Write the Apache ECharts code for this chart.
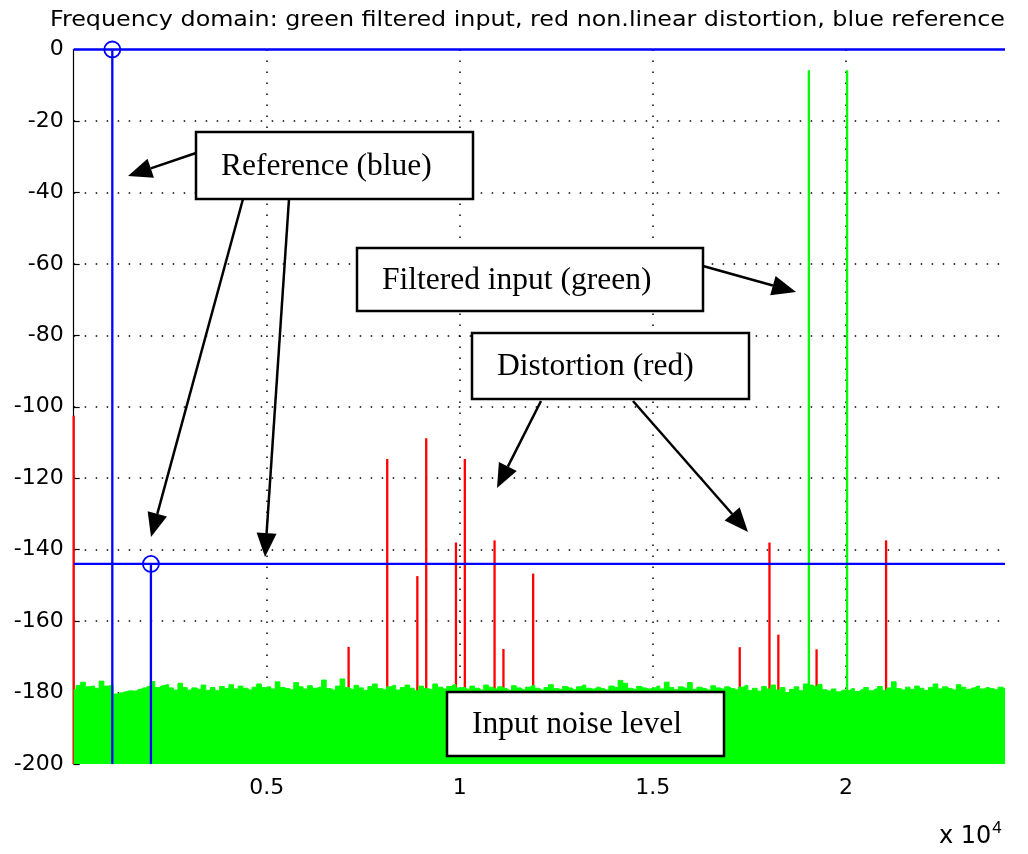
<!DOCTYPE html>
<html>
<head>
<meta charset="utf-8">
<script src="https://cdn.jsdelivr.net/npm/echarts@6/dist/echarts.min.js"></script>
<style>
  html, body { margin: 0; padding: 0; background: #fff; }
  #chart { width: 1028px; height: 854px; }
</style>
</head>
<body>
<div id="chart"></div>
<script>
// Spectrum axis limits (Hz, dB)
const X_MAX = 24120;
const Y_MIN = -200;
const Y_MAX = 0;
const X_TICK_HZ = 5000;

// Broadband noise floor of the filtered input, evenly spaced bins from 0 Hz to X_MAX
const noiseDb = [
  -179.2, -178.0, -177.1, -178.4, -178.2, -178.8, -176.8, -178.2, -178.0,
  -180.4, -180.1, -179.8, -179.5, -179.6, -179.1, -178.7, -178.3,
  -176.9, -178.6, -178.1, -177.8, -178.7, -179.3, -177.4, -178.6, -179.3, -178.7,
  -179.1, -177.9, -179.4, -178.6, -179.5, -178.3, -178.9, -177.8, -179.0, -178.2,
  -178.8, -179.3, -178.5, -177.6, -178.6,
  -178.4, -179.0, -177.0, -178.6, -178.9, -179.2, -177.2, -178.4, -179.0, -178.1,
  -178.8, -178.5, -176.5, -178.9, -179.3, -178.2, -176.2, -178.6, -179.1, -178.0,
  -178.7, -179.4, -178.3, -177.6, -178.9, -179.2, -178.4, -178.0, -179.3, -178.6,
  -177.9, -178.8, -179.5, -178.2, -178.9, -179.1, -177.6, -178.5, -179.0, -178.3,
  -177.8, -178.7,
  -178.6, -179.1, -178.2, -178.8, -179.3, -177.9, -178.5, -179.0, -178.4, -178.9,
  -179.4, -178.1, -178.7, -179.2, -178.5, -178.0, -178.8, -179.3, -178.6, -177.8,
  -178.9, -179.1, -178.3, -178.7, -179.2, -178.4, -177.9, -178.8, -179.0, -178.5,
  -178.9, -179.3, -178.2, -178.6, -176.6, -177.4, -178.8, -179.1, -178.3, -178.7,
  -179.0,
  -178.7, -178.2, -179.0, -177.1, -178.6, -179.2, -178.4, -178.8, -177.2, -179.1,
  -178.5, -178.9, -179.3, -178.1, -178.7, -179.0, -178.4, -178.9, -179.2, -178.5,
  -178.0, -179.4, -178.8, -179.6, -178.3, -179.0, -177.9, -179.3, -178.6, -180.0,
  -179.1, -178.4, -179.5, -177.6, -177.9, -178.3, -177.7, -179.2, -179.6, -179.0,
  -179.8, -179.3,
  -179.4, -178.9, -179.7, -179.2, -178.6, -179.5, -179.0, -178.3, -179.4, -178.7,
  -177.0, -178.9, -179.3, -178.5, -179.1, -178.2, -178.8, -179.4, -178.6, -177.6,
  -179.0, -178.4, -178.9, -179.3, -177.8, -178.5, -179.1, -178.7, -178.2, -179.0,
  -178.6, -178.9, -179.2, -178.5, -179.0
];

// Non-linear distortion products (red)
const distortionHz = [0, 7120, 8120, 8900, 9130, 9900, 10130, 10900, 11130, 11900, 17250, 18020, 18250, 19240, 21040];
const distortionDb = [-102.5, -167.2, -114.6, -147.4, -108.8, -138.0, -114.6, -137.4, -167.8, -146.7, -167.3, -138.0, -163.8, -167.9, -137.4];

// Two-tone filtered input (green)
const toneHz = [19040, 20030];
const toneDb = [-5.8, -5.8];

// Reference levels (blue)
const referenceHz = [1000, 2000];
const referenceDb = [0, -144];

const TITLE = 'Frequency domain: green filtered input, red non.linear distortion, blue reference';

const GREEN = '#00ff00';
const RED = '#ff0000';
const BLUE = '#0000ff';
const SANS = '"DejaVu Sans", Verdana, sans-serif';
const SERIF = '"Liberation Serif", "Times New Roman", serif';
const STEM_WIDTH = 2.3;

const noiseStep = X_MAX / (noiseDb.length - 1);
const noiseData = noiseDb.map((v, i) => [i * noiseStep, v]);
const distortionData = distortionHz.map((f, i) => [f, distortionDb[i]]);
const toneData = toneHz.map((f, i) => [f, toneDb[i]]);
const referenceData = referenceHz.map((f, i) => [f, referenceDb[i]]);

function stemRenderer(color) {
  return function (params, api) {
    const f = api.value(0);
    const top = api.value(1);
    const p0 = api.coord([f, Y_MIN]);
    const p1 = api.coord([f, top]);
    return {
      type: 'line',
      shape: { x1: p0[0], y1: p0[1], x2: p1[0], y2: p1[1] },
      style: { stroke: color, lineWidth: STEM_WIDTH }
    };
  };
}

function referenceRenderer(params, api) {
  const f = api.value(0);
  const level = api.value(1);
  const p0 = api.coord([f, Y_MIN]);
  const p1 = api.coord([f, level]);
  const cs = params.coordSys;
  return {
    type: 'group',
    children: [
      { type: 'line', shape: { x1: cs.x, y1: p1[1], x2: cs.x + cs.width, y2: p1[1] },
        style: { stroke: BLUE, lineWidth: STEM_WIDTH } },
      { type: 'line', shape: { x1: p0[0], y1: p0[1], x2: p1[0], y2: p1[1] },
        style: { stroke: BLUE, lineWidth: STEM_WIDTH } },
      { type: 'circle', shape: { cx: p1[0], cy: p1[1], r: 8 },
        style: { stroke: BLUE, fill: 'none', lineWidth: 1.8 } }
    ]
  };
}

// Stretch the title so it spans the plot width like the original screen font
const measureCtx = document.createElement('canvas').getContext('2d');
measureCtx.font = '21px ' + SANS;
const titleScaleX = 955 / measureCtx.measureText(TITLE).width;

const chart = echarts.init(document.getElementById('chart'), null, { renderer: 'canvas' });

// Call-out boxes and arrows
function box(x, y, w, h, label) {
  return [
    { type: 'rect', z: 100, shape: { x: x, y: y, width: w, height: h },
      style: { fill: '#fff', stroke: '#000', lineWidth: 2.5 } },
    { type: 'text', z: 101, x: x + 25, y: y + h / 2 + 1,
      style: { text: label, font: '31.5px ' + SERIF, fill: '#000', verticalAlign: 'middle', align: 'left' } }
  ];
}
function arrow(x1, y1, x2, y2) {
  const dx = x2 - x1, dy = y2 - y1;
  const len = Math.sqrt(dx * dx + dy * dy);
  const ux = dx / len, uy = dy / len;
  const headLen = 24, halfW = 10;
  const bx = x2 - ux * headLen, by = y2 - uy * headLen;
  return [
    { type: 'line', z: 100, shape: { x1: x1, y1: y1, x2: bx, y2: by },
      style: { stroke: '#000', lineWidth: 2.5 } },
    { type: 'polygon', z: 100,
      shape: { points: [[x2, y2], [bx - uy * halfW, by + ux * halfW], [bx + uy * halfW, by - ux * halfW]] },
      style: { fill: '#000' } }
  ];
}

const annotations = [].concat(
  arrow(196, 153, 128, 176),
  arrow(243, 199, 151, 537),
  arrow(289, 199, 265, 557),
  arrow(703, 266, 796, 292),
  arrow(541, 401, 497, 488),
  arrow(633, 401, 748, 532),
  box(196, 132, 277, 67, 'Reference (blue)'),
  box(357, 248, 346, 63, 'Filtered input (green)'),
  box(472, 333, 277, 66, 'Distortion (red)'),
  box(447, 692, 277, 64, 'Input noise level'),
  [
    { type: 'text', z: 50, x: 50, y: 21, scaleX: titleScaleX,
      style: { text: TITLE, font: '21px ' + SANS, fill: '#000', verticalAlign: 'middle', align: 'left' } },
    { type: 'text', z: 50, x: 939, y: 820,
      style: { text: 'x 10{s|4}', font: '24px ' + SANS, fill: '#000',
        rich: { s: { fontSize: 17, verticalAlign: 'top', padding: [0, 0, 16, 1] } } } }
  ]
);

const option = {
  animation: false,
  backgroundColor: '#fff',
  grid: { left: 73.7, right: 23, top: 49.5, bottom: 90 },
  xAxis: {
    type: 'value', min: 0, max: X_MAX, interval: X_TICK_HZ,
    axisLine: { show: false },
    axisTick: { show: false },
    axisLabel: {
      color: '#000', fontSize: 22, margin: 13, fontFamily: SANS,
      showMaxLabel: false, showMinLabel: false,
      formatter: v => (v === 0 ? '' : String(v / 1e4))
    },
    splitLine: { show: true, showMinLine: false, showMaxLine: false,
      lineStyle: { color: '#000', width: 1.5, type: [1.5, 9.5] } }
  },
  yAxis: {
    type: 'value', min: Y_MIN, max: Y_MAX, interval: 20,
    axisLine: { show: true, lineStyle: { color: '#000', width: 1.2 } },
    axisTick: { show: true, inside: true, length: 6, lineStyle: { color: '#000', width: 1.2 } },
    axisLabel: { color: '#000', fontSize: 22, margin: 10, fontFamily: SANS },
    splitLine: { show: true, showMinLine: false, showMaxLine: false,
      lineStyle: { color: '#000', width: 1.5, type: [1.5, 9.5] } }
  },
  series: [
    {
      name: 'distortion', type: 'custom', z: 2,
      renderItem: stemRenderer(RED), data: distortionData
    },
    {
      name: 'noise', type: 'line', z: 3, data: noiseData, step: 'middle',
      showSymbol: false, symbol: 'none',
      lineStyle: { color: GREEN, width: 1 },
      areaStyle: { color: GREEN, opacity: 1, origin: 'start' }
    },
    {
      name: 'tones', type: 'custom', z: 3,
      renderItem: stemRenderer(GREEN), data: toneData
    },
    {
      name: 'reference', type: 'custom', z: 4,
      renderItem: referenceRenderer, data: referenceData
    }
  ],
  graphic: { elements: annotations }
};

chart.setOption(option);
</script>
</body>
</html>
